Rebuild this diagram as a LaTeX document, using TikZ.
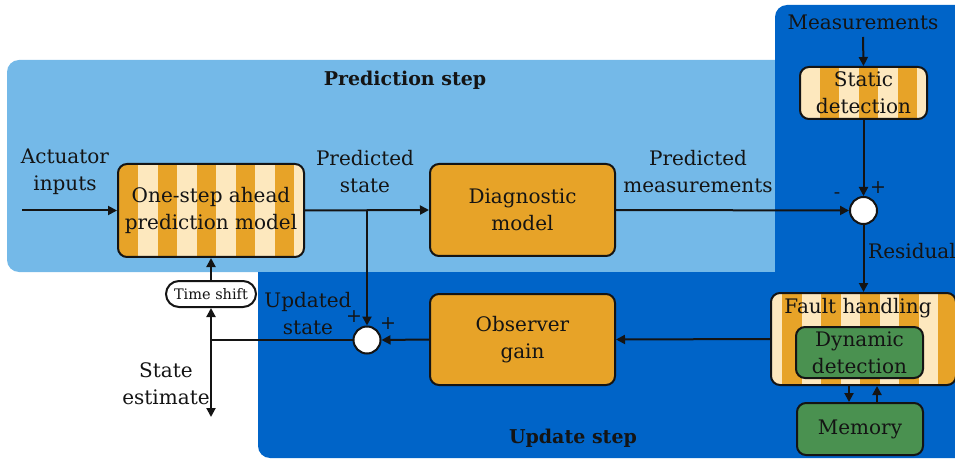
\documentclass[tikz,border=0pt]{standalone}
\usepackage{fontspec}
\setmainfont{DejaVu Serif}
\usetikzlibrary{arrows.meta}
\definecolor{lblue}{RGB}{116,185,232}
\definecolor{dblue}{RGB}{0,100,200}
\definecolor{orng}{RGB}{231,163,40}
\definecolor{cream}{RGB}{253,232,190}
\definecolor{grn}{RGB}{74,145,80}
\definecolor{ink}{RGB}{20,20,20}
\begin{document}
\begin{tikzpicture}[x=1pt,y=-1pt,
  every node/.style={text=ink, font=\fontsize{20}{27}\selectfont, align=center, inner sep=0pt},
  box/.style={draw=ink, line width=2pt, rounded corners=9pt},
  plainbox/.style={box, fill=orng},
  gbox/.style={box, fill=grn},
  striped/.style={box, fill=orng, path picture={\foreach \i in {-1,...,6}{\fill[cream, sharp corners] ([xshift={#1pt+2*\i*19.55pt}]path picture bounding box.south west) rectangle ([xshift={#1pt+(2*\i+1)*19.55pt}]path picture bounding box.north west);}}},
  sumc/.style={circle, draw=ink, fill=white, line width=2pt, minimum size=27pt},
  arr/.style={draw=ink, line width=2pt, -{Triangle[length=9pt,width=9pt]}},
  ln/.style={draw=ink, line width=2pt},
  sign/.style={font=\fontsize{19}{20}\selectfont},
  title/.style={font=\fontsize{19}{22}\selectfont\bfseries},
]
\useasboundingbox (0,0) rectangle (955,462);
% regions
\fill[lblue, rounded corners=12pt] (7,60) rectangle (790,272);
\fill[dblue] (775,272) -- (775,17) arc[start angle=180, end angle=270, radius=12] -- (965,5) -- (965,272) -- cycle;
\fill[dblue] (258,272) -- (965,272) -- (965,458) -- (270,458) arc[start angle=90, end angle=180, radius=12] -- cycle;
\node[title] at (405,80) {Prediction step};
\node[title] at (573,438) {Update step};
% blocks
\node[striped=20, minimum width=186pt, minimum height=93pt] (pm) at (211,210.5) {One-step ahead\\prediction model};
\node[plainbox, minimum width=185pt, minimum height=92pt] (dm) at (522.5,210) {Diagnostic\\model};
\node[plainbox, minimum width=185pt, minimum height=91pt] (og) at (522.5,339.5) {Observer\\gain};
\node[striped=0, minimum width=127pt, minimum height=52pt] (sd) at (863.5,93) {Static\\detection};
\node[striped=-8.5, minimum width=185pt, minimum height=92pt] (fh) at (863.5,339) {};
\node (fhl) at (858,308) {Fault handling};
\node[gbox, minimum width=127pt, minimum height=51pt] (dd) at (859.5,352.5) {Dynamic\\detection};
\node[gbox, minimum width=126pt, minimum height=52pt] (mem) at (860,429) {Memory};
\node[sumc] (s1) at (863.5,210.5) {};
\node[sumc] (s2) at (367,340) {};
\node[box, fill=white, rounded corners=13pt, minimum width=90pt, minimum height=26pt, font=\fontsize{14.5}{17}\selectfont] (ts) at (211,294) {Time shift};
% labels
\node (act) at (65,172) {Actuator\\inputs};
\node (pst) at (365,172) {Predicted\\state};
\node (pme) at (698,172) {Predicted\\measurements};
\node (meas) at (863,22) {Measurements};
\node (res) at (912,251) {Residual};
\node (ust) at (308,314) {Updated\\state};
\node (sest) at (166,384) {State\\estimate};
\node[sign] (m1) at (837,196) {-};
\node[sign] (p1) at (878,188) {+};
\node[sign] (p2) at (354,317) {+};
\node[sign] (p3) at (388,324) {+};
% connectors
\coordinate (ain) at (22,210.5);
\coordinate (j) at (211,340);
\coordinate (se) at (211,417);
\coordinate (xa) at (849,0);
\coordinate (xb) at (877,0);
\coordinate (mtop) at (863,37);
\draw[arr] (ain) -- (pm.west);
\draw[arr] (pm.east) -- (dm.west);
\draw[arr] (pm.east -| s2) -- (s2.north);
\draw[arr] (dm.east) -- (s1.west);
\draw[arr] (mtop) -- (sd.north);
\draw[arr] (sd.south) -- (s1.north);
\draw[arr] (s1.south) -- (fh.north);
\draw[arr] (fh.west) -- (og.east);
\draw[arr] (og.west) -- (s2.east);
\draw[ln] (s2.west) -- (j);
\draw[arr] (j) -- (ts.south);
\draw[arr] (ts.north) -- (pm.south);
\draw[arr] (j) -- (se);
\draw[arr] (fh.south -| xa) -- (mem.north -| xa);
\draw[arr] (mem.north -| xb) -- (fh.south -| xb);
\end{tikzpicture}
\end{document}
